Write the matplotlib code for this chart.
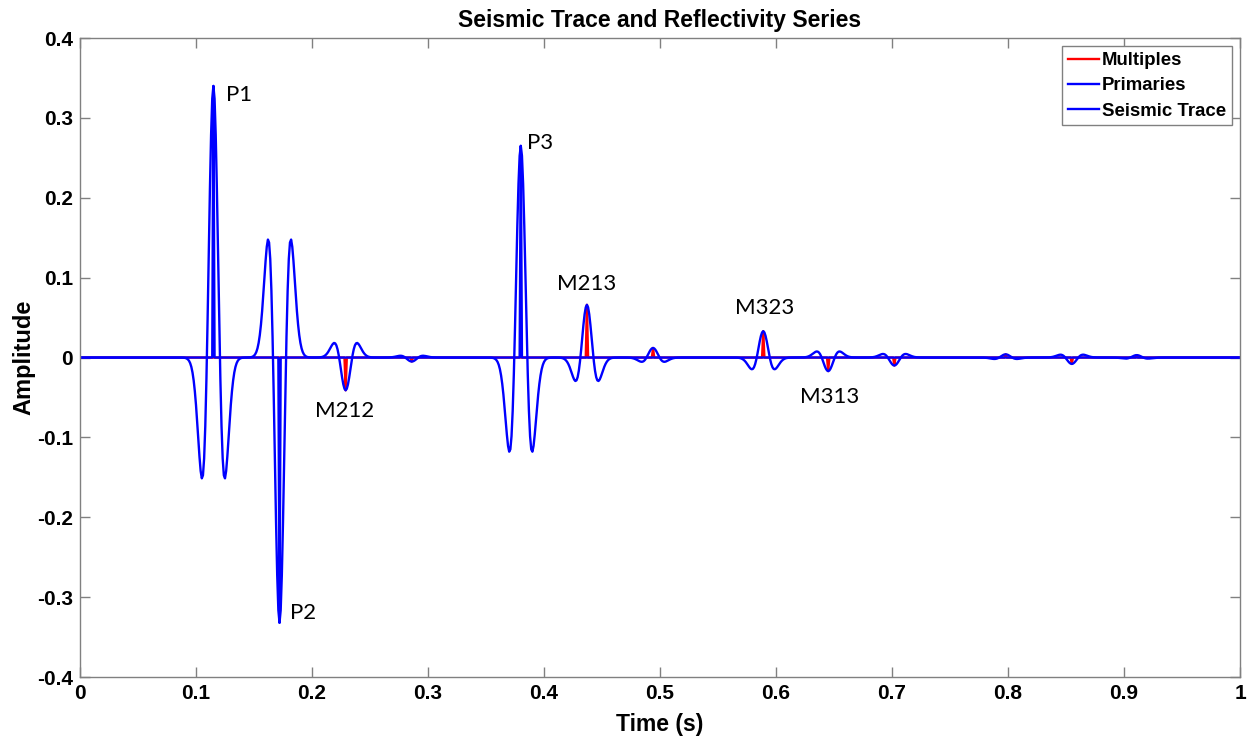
import numpy as np
import matplotlib
matplotlib.use("Agg")
import matplotlib.pyplot as plt

# ---- data ----
dt = 0.001
t_end = 1.0
ricker_freq = 40.0  # Hz

prim_times = [0.115, 0.172, 0.380]
prim_amps = [0.34, -0.332, 0.265]

mult_times = [0.229, 0.286, 0.437, 0.494, 0.589, 0.645, 0.702, 0.798, 0.855, 0.911]
mult_amps = [-0.041, -0.005, 0.066, 0.012, 0.033, -0.017, -0.010, 0.004, -0.008, 0.003]

labels = ["P1", "P2", "P3", "M212", "M213", "M323", "M313"]
label_x = [0.126, 0.181, 0.385, 0.203, 0.411, 0.565, 0.621]
label_y = [0.329, -0.320, 0.269, -0.067, 0.092, 0.062, -0.049]

xticks = [0, 0.1, 0.2, 0.3, 0.4, 0.5, 0.6, 0.7, 0.8, 0.9, 1]
xticklabels = ["0", "0.1", "0.2", "0.3", "0.4", "0.5", "0.6", "0.7", "0.8", "0.9", "1"]
yticks = [-0.4, -0.3, -0.2, -0.1, 0, 0.1, 0.2, 0.3, 0.4]
yticklabels = ["-0.4", "-0.3", "-0.2", "-0.1", "0", "0.1", "0.2", "0.3", "0.4"]

# ---- reflectivity series and trace ----
t = np.arange(0, t_end + dt / 2, dt)
prim = np.zeros_like(t)
mult = np.zeros_like(t)
for tt, a in zip(prim_times, prim_amps):
    prim[int(round(tt / dt))] = a
for tt, a in zip(mult_times, mult_amps):
    mult[int(round(tt / dt))] = a

tw = np.arange(-0.06, 0.06 + dt / 2, dt)
arg = (np.pi * ricker_freq * tw) ** 2
wavelet = (1 - 2 * arg) * np.exp(-arg)
trace = np.convolve(prim + mult, wavelet, mode="same")

# ---- figure ----
fig = plt.figure(figsize=(12.5, 7.4), dpi=100)
ax = fig.add_axes([0.064, 0.0851, 0.928, 0.8635])

blue = (0, 0, 1)
red = (1, 0, 0)
ax.plot(t, mult, color=red, lw=1.7, label="Multiples")
ax.plot(t, prim, color=blue, lw=1.7, label="Primaries")
ax.plot(t, trace, color=blue, lw=1.7, label="Seismic Trace")

ax.set_xlim(0, 1)
ax.set_ylim(-0.4, 0.4)
ax.set_xticks(xticks)
ax.set_xticklabels(xticklabels)
ax.set_yticks(yticks)
ax.set_yticklabels(yticklabels)

spine_c = "#808080"
for s in ax.spines.values():
    s.set_color(spine_c)
    s.set_linewidth(1.0)
ax.tick_params(direction="in", length=7, width=1.0, color=spine_c,
               top=True, right=True, labelsize=15, pad=5)
for lab in ax.get_xticklabels() + ax.get_yticklabels():
    lab.set_fontweight("bold")
    lab.set_family("Liberation Sans")

ax.set_xlabel("Time (s)", fontsize=16.5, fontweight="bold", family="Liberation Sans", labelpad=7)
ax.set_ylabel("Amplitude", fontsize=17, fontweight="bold", family="Liberation Sans", labelpad=1)
ax.set_title("Seismic Trace and Reflectivity Series", fontsize=16.5, fontweight="bold",
             family="Liberation Sans", pad=8)

for lab, x, y in zip(labels, label_x, label_y):
    ax.text(x, y, lab, fontsize=16, family="Lato", ha="left", va="center", color="black")

leg = ax.legend(loc="upper right",
                prop={"weight": "bold", "family": "Liberation Sans", "size": 13.4},
                frameon=True, fancybox=False, framealpha=1, edgecolor=spine_c,
                handlelength=1.67, handletextpad=0.15, borderpad=0.3, labelspacing=0.45,
                borderaxespad=0.45)
leg.get_frame().set_linewidth(1.0)

fig.savefig("out.png", dpi=100)
